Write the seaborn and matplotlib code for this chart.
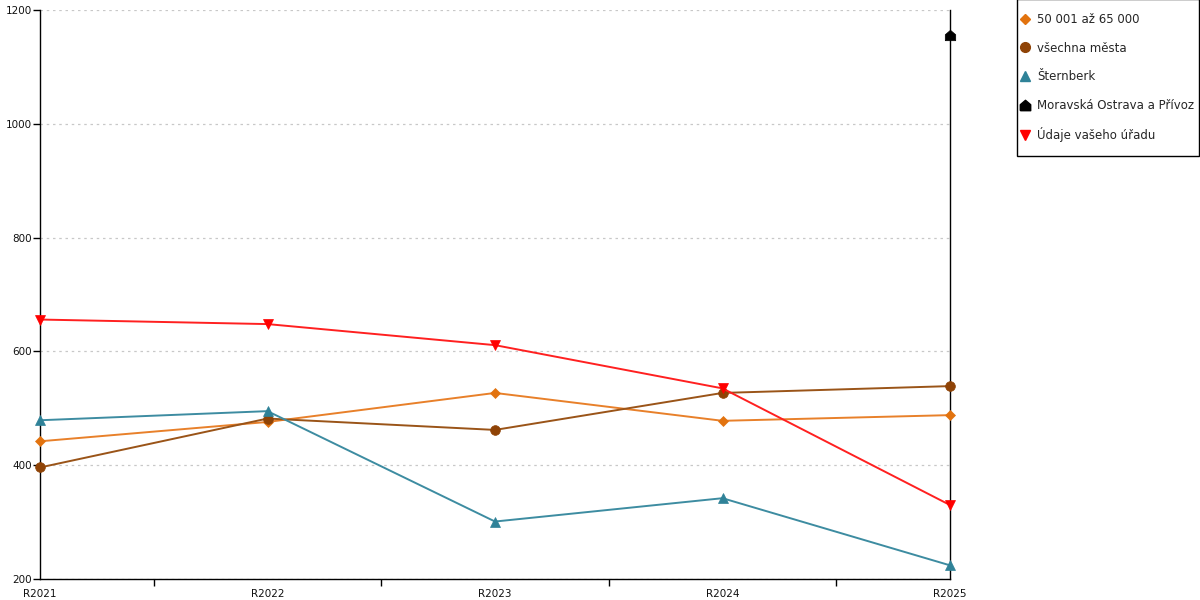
import numpy as np
import pandas as pd
import matplotlib
matplotlib.use('Agg')
import matplotlib.pyplot as plt
from matplotlib.lines import Line2D
from matplotlib.patches import Rectangle
import seaborn as sns

# data
roky = ['R2021', 'R2022', 'R2023', 'R2024', 'R2025']
mesta_50_65 = [442, 476, 527, 478, 488]
vsechna_mesta = [396, 482, 462, 527, 539]
sternberk = [479, 495, 301, 342, 224]
ostrava = [np.nan, np.nan, np.nan, np.nan, 1156]
urad = [656, 648, 611, 535, 330]

nazvy = ['50 001 až 65 000', 'všechna města', 'Šternberk',
         'Moravská Ostrava a Přívoz', 'Údaje vašeho úřadu']
hodnoty = [mesta_50_65, vsechna_mesta, sternberk, ostrava, urad]

house = [(-1, -1), (1, -1), (1, 0.15), (0, 1), (-1, 0.15), (-1, -1)]
styly = {
    '50 001 až 65 000': dict(color='#e2730f', lc='#e8802a', marker='D', ms=5.5),
    'všechna města': dict(color='#8f4306', lc='#9a5418', marker='o', ms=7),
    'Šternberk': dict(color='#2f8298', lc='#3d8ca1', marker='^', ms=7.5),
    'Moravská Ostrava a Přívoz': dict(color='#000000', lc='#000000', marker=house, ms=7.5),
    'Údaje vašeho úřadu': dict(color='#ff0000', lc='#ff2020', marker='v', ms=7.5),
}

sns.set_theme(style='white')
plt.rcParams['font.family'] = ['DejaVu Sans']

fig = plt.figure(figsize=(12, 6), dpi=100)
ax = fig.add_axes([40/1200, 21/600, 910/1200, 569/600])

x = np.arange(len(roky))
for nazev, vals in zip(nazvy, hodnoty):
    s = styly[nazev]
    df = pd.DataFrame({'x': x, 'y': vals}).dropna()
    sns.lineplot(data=df, x='x', y='y', ax=ax, color=s['lc'], linewidth=1.4,
                 marker=s['marker'], markersize=s['ms'], markerfacecolor=s['color'],
                 markeredgecolor=s['color'], markeredgewidth=0.5, legend=False,
                 clip_on=False, zorder=3)

ax.set_xlim(0, 4)
ax.set_ylim(200, 1200)
ax.set_xticks(x)
ax.set_xticklabels(roky)
ax.set_xticks(np.arange(0.5, 4, 1), minor=True)
ax.set_yticks(range(200, 1201, 200))
ax.set_xlabel('')
ax.set_ylabel('')
ax.tick_params(axis='both', which='both', direction='out', length=5, width=1,
               color='black', labelsize=7.5, labelcolor='#111111', pad=1,
               bottom=True, left=True)
ax.tick_params(axis='x', which='major', length=0, pad=7.5)
ax.yaxis.grid(True, color='#c8c8c8', linestyle=(0, (2, 3)), linewidth=0.9)
ax.xaxis.grid(False)
for side in ['left', 'bottom', 'right']:
    ax.spines[side].set_visible(True)
    ax.spines[side].set_color('black')
    ax.spines[side].set_linewidth(1)
ax.spines['top'].set_visible(False)

# legend box drawn separately so the inner padding can differ per direction
ramecek = Rectangle((1016.5/1200, (600-155.5)/600), 182.5/1200, 157/600,
                    transform=fig.transFigure, facecolor='white',
                    edgecolor='black', linewidth=1, zorder=1)
fig.patches.append(ramecek)

handles = [Line2D([], [], linestyle='none', marker=styly[n]['marker'],
                  markersize=styly[n]['ms'], color=styly[n]['color'])
           for n in nazvy]
leg = fig.legend(handles, nazvy, loc='upper left',
                 bbox_to_anchor=(1021/1200, (600-13)/600),
                 bbox_transform=fig.transFigure, borderaxespad=0, borderpad=0,
                 fontsize=8.5, labelspacing=1.32, handlelength=0.75,
                 handletextpad=0.6, frameon=False)
leg.set_zorder(2)

fig.savefig('out.png', dpi=100)
